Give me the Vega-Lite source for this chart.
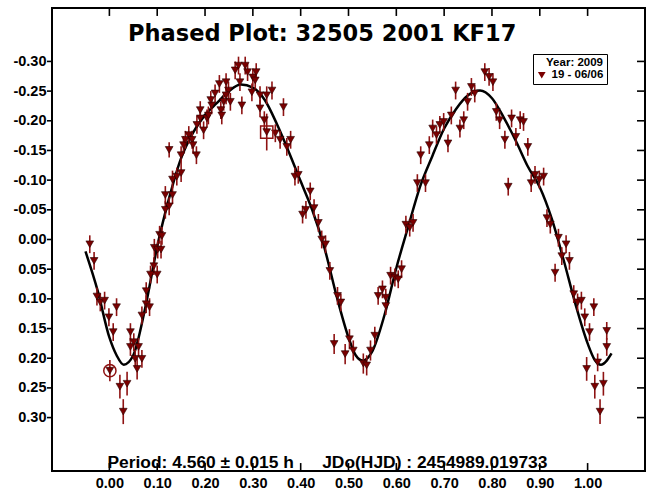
{
  "$schema": "https://vega.github.io/schema/vega-lite/v6.json",
  "width": 593,
  "height": 463,
  "autosize": {"type": "none"},
  "padding": {"left": 52, "top": 8, "right": 3, "bottom": 22},
  "background": "white",
  "config": {
    "view": {"stroke": "black", "strokeWidth": 2},
    "axis": {"grid": false, "domain": false, "ticks": false, "title": null, "labelColor": "black", "labelFont": "Liberation Sans", "labelFontWeight": "bold", "labelFontSize": 14.5, "labelOverlap": false, "labelFlush": false}
  },
  "datasets": {
    "curve": [
      {"x": -0.05, "y": 0.02}, {"x": -0.025, "y": 0.085}, {"x": 0.0, "y": 0.165}, {"x": 0.015, "y": 0.195},
      {"x": 0.03, "y": 0.211}, {"x": 0.05, "y": 0.195}, {"x": 0.075, "y": 0.115}, {"x": 0.1, "y": 0.012},
      {"x": 0.125, "y": -0.07}, {"x": 0.15, "y": -0.137}, {"x": 0.175, "y": -0.18}, {"x": 0.2, "y": -0.21},
      {"x": 0.225, "y": -0.23}, {"x": 0.25, "y": -0.25}, {"x": 0.275, "y": -0.261}, {"x": 0.3, "y": -0.256},
      {"x": 0.325, "y": -0.235}, {"x": 0.35, "y": -0.195}, {"x": 0.375, "y": -0.148}, {"x": 0.4, "y": -0.098},
      {"x": 0.425, "y": -0.048}, {"x": 0.45, "y": 0.015}, {"x": 0.475, "y": 0.095}, {"x": 0.5, "y": 0.165},
      {"x": 0.515, "y": 0.195}, {"x": 0.53, "y": 0.204}, {"x": 0.55, "y": 0.188}, {"x": 0.575, "y": 0.128},
      {"x": 0.6, "y": 0.048}, {"x": 0.625, "y": -0.022}, {"x": 0.65, "y": -0.09}, {"x": 0.675, "y": -0.14},
      {"x": 0.7, "y": -0.187}, {"x": 0.725, "y": -0.22}, {"x": 0.75, "y": -0.243}, {"x": 0.775, "y": -0.251},
      {"x": 0.8, "y": -0.238}, {"x": 0.825, "y": -0.205}, {"x": 0.85, "y": -0.166}, {"x": 0.875, "y": -0.123},
      {"x": 0.9, "y": -0.088}, {"x": 0.925, "y": -0.035}, {"x": 0.95, "y": 0.035}, {"x": 0.975, "y": 0.11},
      {"x": 1.0, "y": 0.175}, {"x": 1.015, "y": 0.203}, {"x": 1.028, "y": 0.211}, {"x": 1.04, "y": 0.204},
      {"x": 1.05, "y": 0.192}
    ],
    "pts": [
      {"x": -0.041, "y": 0.008, "e": 0.015}, {"x": -0.032, "y": 0.036, "e": 0.015}, {"x": -0.026, "y": 0.096, "e": 0.015},
      {"x": -0.019, "y": 0.106, "e": 0.015}, {"x": -0.010, "y": 0.103, "e": 0.015}, {"x": 0.015, "y": 0.114, "e": 0.015},
      {"x": -0.001, "y": 0.131, "e": 0.015}, {"x": 0.008, "y": 0.156, "e": 0.015}, {"x": 0.001, "y": 0.221, "e": 0.018},
      {"x": 0.022, "y": 0.248, "e": 0.02}, {"x": 0.037, "y": 0.243, "e": 0.02}, {"x": 0.029, "y": 0.29, "e": 0.021},
      {"x": 0.044, "y": 0.156, "e": 0.015}, {"x": 0.044, "y": 0.181, "e": 0.015}, {"x": 0.051, "y": 0.173, "e": 0.015},
      {"x": 0.054, "y": 0.201, "e": 0.015}, {"x": 0.058, "y": 0.218, "e": 0.018}, {"x": 0.061, "y": 0.181, "e": 0.015},
      {"x": 0.068, "y": 0.201, "e": 0.015}, {"x": 0.068, "y": 0.128, "e": 0.015}, {"x": 0.077, "y": 0.087, "e": 0.015},
      {"x": 0.077, "y": 0.109, "e": 0.015}, {"x": 0.084, "y": 0.114, "e": 0.015}, {"x": 0.086, "y": 0.059, "e": 0.015},
      {"x": 0.093, "y": 0.045, "e": 0.015}, {"x": 0.1, "y": 0.059, "e": 0.015}, {"x": 0.094, "y": 0.014, "e": 0.015},
      {"x": 0.101, "y": 0.017, "e": 0.015}, {"x": 0.105, "y": -0.008, "e": 0.015}, {"x": 0.108, "y": 0.017, "e": 0.015},
      {"x": 0.11, "y": -0.006, "e": 0.015}, {"x": 0.117, "y": -0.05, "e": 0.015}, {"x": 0.125, "y": -0.056, "e": 0.015},
      {"x": 0.117, "y": -0.075, "e": 0.015}, {"x": 0.132, "y": -0.075, "e": 0.015}, {"x": 0.132, "y": -0.101, "e": 0.015},
      {"x": 0.141, "y": -0.106, "e": 0.015}, {"x": 0.15, "y": -0.112, "e": 0.015}, {"x": 0.15, "y": -0.142, "e": 0.015},
      {"x": 0.125, "y": -0.151, "e": 0.013}, {"x": 0.155, "y": -0.159, "e": 0.015}, {"x": 0.159, "y": -0.168, "e": 0.015},
      {"x": 0.166, "y": -0.176, "e": 0.015}, {"x": 0.173, "y": -0.168, "e": 0.015}, {"x": 0.182, "y": -0.142, "e": 0.015},
      {"x": 0.175, "y": -0.159, "e": 0.015}, {"x": 0.183, "y": -0.193, "e": 0.015}, {"x": 0.19, "y": -0.204, "e": 0.015},
      {"x": 0.197, "y": -0.184, "e": 0.015}, {"x": 0.19, "y": -0.218, "e": 0.015}, {"x": 0.204, "y": -0.204, "e": 0.015},
      {"x": 0.207, "y": -0.209, "e": 0.015}, {"x": 0.214, "y": -0.226, "e": 0.015}, {"x": 0.212, "y": -0.235, "e": 0.015},
      {"x": 0.221, "y": -0.246, "e": 0.015}, {"x": 0.23, "y": -0.262, "e": 0.015}, {"x": 0.233, "y": -0.218, "e": 0.015},
      {"x": 0.235, "y": -0.209, "e": 0.015}, {"x": 0.239, "y": -0.232, "e": 0.015}, {"x": 0.244, "y": -0.265, "e": 0.015},
      {"x": 0.249, "y": -0.251, "e": 0.015}, {"x": 0.253, "y": -0.232, "e": 0.015}, {"x": 0.244, "y": -0.243, "e": 0.015},
      {"x": 0.263, "y": -0.285, "e": 0.015}, {"x": 0.27, "y": -0.293, "e": 0.015}, {"x": 0.273, "y": -0.265, "e": 0.015},
      {"x": 0.277, "y": -0.226, "e": 0.015}, {"x": 0.284, "y": -0.293, "e": 0.015}, {"x": 0.289, "y": -0.282, "e": 0.015},
      {"x": 0.298, "y": -0.248, "e": 0.015}, {"x": 0.3, "y": -0.273, "e": 0.015}, {"x": 0.307, "y": -0.282, "e": 0.015},
      {"x": 0.305, "y": -0.268, "e": 0.015}, {"x": 0.315, "y": -0.243, "e": 0.015}, {"x": 0.315, "y": -0.221, "e": 0.015},
      {"x": 0.324, "y": -0.201, "e": 0.015}, {"x": 0.329, "y": -0.243, "e": 0.015}, {"x": 0.329, "y": -0.181, "e": 0.031},
      {"x": 0.34, "y": -0.251, "e": 0.015}, {"x": 0.364, "y": -0.223, "e": 0.015}, {"x": 0.347, "y": -0.179, "e": 0.015},
      {"x": 0.357, "y": -0.168, "e": 0.015}, {"x": 0.371, "y": -0.156, "e": 0.015}, {"x": 0.379, "y": -0.168, "e": 0.015},
      {"x": 0.388, "y": -0.106, "e": 0.015}, {"x": 0.395, "y": -0.109, "e": 0.015}, {"x": 0.42, "y": -0.081, "e": 0.015},
      {"x": 0.404, "y": -0.042, "e": 0.015}, {"x": 0.411, "y": -0.05, "e": 0.015}, {"x": 0.428, "y": -0.053, "e": 0.015},
      {"x": 0.437, "y": -0.028, "e": 0.015}, {"x": 0.444, "y": 0.0, "e": 0.015}, {"x": 0.452, "y": 0.008, "e": 0.015},
      {"x": 0.461, "y": 0.053, "e": 0.015}, {"x": 0.477, "y": 0.095, "e": 0.015}, {"x": 0.484, "y": 0.106, "e": 0.015},
      {"x": 0.47, "y": 0.176, "e": 0.017}, {"x": 0.493, "y": 0.193, "e": 0.017}, {"x": 0.502, "y": 0.168, "e": 0.017},
      {"x": 0.51, "y": 0.187, "e": 0.017}, {"x": 0.531, "y": 0.209, "e": 0.017}, {"x": 0.538, "y": 0.212, "e": 0.017},
      {"x": 0.546, "y": 0.187, "e": 0.017}, {"x": 0.555, "y": 0.162, "e": 0.015}, {"x": 0.562, "y": 0.095, "e": 0.015},
      {"x": 0.571, "y": 0.084, "e": 0.015}, {"x": 0.578, "y": 0.098, "e": 0.015}, {"x": 0.578, "y": 0.112, "e": 0.015},
      {"x": 0.588, "y": 0.061, "e": 0.015}, {"x": 0.597, "y": 0.064, "e": 0.015}, {"x": 0.604, "y": 0.067, "e": 0.015},
      {"x": 0.611, "y": 0.05, "e": 0.015}, {"x": 0.62, "y": -0.025, "e": 0.015}, {"x": 0.628, "y": -0.02, "e": 0.015},
      {"x": 0.635, "y": -0.028, "e": 0.015}, {"x": 0.644, "y": -0.095, "e": 0.015}, {"x": 0.661, "y": -0.095, "e": 0.015},
      {"x": 0.651, "y": -0.142, "e": 0.015}, {"x": 0.669, "y": -0.159, "e": 0.015}, {"x": 0.676, "y": -0.187, "e": 0.015},
      {"x": 0.684, "y": -0.176, "e": 0.015}, {"x": 0.691, "y": -0.193, "e": 0.015}, {"x": 0.699, "y": -0.198, "e": 0.015},
      {"x": 0.708, "y": -0.162, "e": 0.015}, {"x": 0.715, "y": -0.209, "e": 0.015}, {"x": 0.724, "y": -0.251, "e": 0.015},
      {"x": 0.733, "y": -0.187, "e": 0.015}, {"x": 0.741, "y": -0.201, "e": 0.015}, {"x": 0.749, "y": -0.232, "e": 0.015},
      {"x": 0.757, "y": -0.257, "e": 0.015}, {"x": 0.764, "y": -0.246, "e": 0.015}, {"x": 0.785, "y": -0.282, "e": 0.015},
      {"x": 0.794, "y": -0.274, "e": 0.015}, {"x": 0.802, "y": -0.265, "e": 0.015}, {"x": 0.809, "y": -0.215, "e": 0.015},
      {"x": 0.816, "y": -0.201, "e": 0.015}, {"x": 0.827, "y": -0.168, "e": 0.015}, {"x": 0.834, "y": -0.089, "e": 0.015},
      {"x": 0.841, "y": -0.204, "e": 0.015}, {"x": 0.85, "y": -0.173, "e": 0.015}, {"x": 0.859, "y": -0.201, "e": 0.015},
      {"x": 0.866, "y": -0.198, "e": 0.015}, {"x": 0.875, "y": -0.156, "e": 0.015}, {"x": 0.882, "y": -0.095, "e": 0.015},
      {"x": 0.89, "y": -0.109, "e": 0.015}, {"x": 0.899, "y": -0.101, "e": 0.015}, {"x": 0.908, "y": -0.106, "e": 0.015},
      {"x": 0.915, "y": -0.036, "e": 0.015}, {"x": 0.922, "y": -0.025, "e": 0.015}, {"x": 0.932, "y": 0.056, "e": 0.015},
      {"x": 0.939, "y": -0.003, "e": 0.015}, {"x": 0.946, "y": 0.028, "e": 0.015}, {"x": 0.955, "y": 0.008, "e": 0.015},
      {"x": 0.962, "y": 0.036, "e": 0.015}, {"x": 0.971, "y": 0.092, "e": 0.015}, {"x": 0.979, "y": 0.106, "e": 0.015},
      {"x": 0.987, "y": 0.103, "e": 0.015}, {"x": 0.994, "y": 0.131, "e": 0.015}, {"x": 1.004, "y": 0.156, "e": 0.015},
      {"x": 1.013, "y": 0.114, "e": 0.015}, {"x": 0.998, "y": 0.218, "e": 0.02}, {"x": 1.015, "y": 0.248, "e": 0.02},
      {"x": 1.021, "y": 0.207, "e": 0.015}, {"x": 1.033, "y": 0.243, "e": 0.02}, {"x": 1.026, "y": 0.29, "e": 0.021},
      {"x": 1.04, "y": 0.154, "e": 0.015}, {"x": 1.04, "y": 0.181, "e": 0.015}
    ],
    "special": [
      {"x": 0.001, "y": 0.221, "s": "circle"},
      {"x": 0.329, "y": -0.181, "s": "square"}
    ],
    "labels": [
      {"t": "Phased Plot: 32505 2001 KF17"}
    ],
    "xticks": [
      {"v": 0}, {"v": 0.1}, {"v": 0.2}, {"v": 0.3}, {"v": 0.4}, {"v": 0.5}, {"v": 0.6}, {"v": 0.7}, {"v": 0.8}, {"v": 0.9}, {"v": 1.0}
    ],
    "yticks": [
      {"v": -0.3}, {"v": -0.25}, {"v": -0.2}, {"v": -0.15}, {"v": -0.1}, {"v": -0.05}, {"v": 0}, {"v": 0.05}, {"v": 0.1}, {"v": 0.15}, {"v": 0.2}, {"v": 0.25}, {"v": 0.3}
    ]
  },
  "resolve": {"axis": {"x": "independent", "y": "independent"}},
  "layer": [
    {
      "data": {"name": "curve"},
      "mark": {"type": "line", "color": "black", "strokeWidth": 2.5, "interpolate": "monotone"},
      "encoding": {
        "x": {"field": "x", "type": "quantitative",
          "scale": {"domain": [-0.12, 1.12], "nice": false, "zero": false},
          "axis": {"orient": "bottom", "title": null, "values": [0, 0.1, 0.2, 0.3, 0.4, 0.5, 0.6, 0.7, 0.8, 0.9, 1.0], "format": ".2f", "labelPadding": 5}},
        "y": {"field": "y", "type": "quantitative",
          "scale": {"domain": [-0.39, 0.39], "nice": false, "zero": false, "reverse": true},
          "axis": {"orient": "left", "title": null, "values": [-0.3, -0.25, -0.2, -0.15, -0.1, -0.05, 0, 0.05, 0.1, 0.15, 0.2, 0.25, 0.3], "format": ".2f", "labelPadding": 6, "labelExpr": "replace(datum.label, '\u2212', '-')"}}
      }
    },
    {
      "data": {"name": "xticks"},
      "mark": {"type": "rule", "color": "black", "strokeWidth": 1.6},
      "encoding": {
        "x": {"field": "v", "type": "quantitative", "axis": null},
        "y": {"datum": 0.39, "type": "quantitative", "axis": null},
        "y2": {"datum": 0.3766}
      }
    },
    {
      "data": {"name": "xticks"},
      "mark": {"type": "rule", "color": "black", "strokeWidth": 1.6},
      "encoding": {
        "x": {"field": "v", "type": "quantitative", "axis": null},
        "y": {"datum": -0.39, "type": "quantitative", "axis": null},
        "y2": {"datum": -0.3766}
      }
    },
    {
      "data": {"name": "yticks"},
      "mark": {"type": "rule", "color": "black", "strokeWidth": 1.6},
      "encoding": {
        "y": {"field": "v", "type": "quantitative", "axis": null},
        "x": {"datum": 1.12, "type": "quantitative", "axis": null},
        "x2": {"datum": 1.1033}
      }
    },
    {
      "data": {"name": "yticks"},
      "mark": {"type": "rule", "color": "black", "strokeWidth": 1.6},
      "encoding": {
        "y": {"field": "v", "type": "quantitative", "axis": null},
        "x": {"datum": -0.12, "type": "quantitative", "axis": null},
        "x2": {"datum": -0.1305}
      }
    },
    {
      "data": {"name": "pts"},
      "mark": {"type": "errorbar", "color": "#8e1212", "thickness": 1.6},
      "encoding": {
        "x": {"field": "x", "type": "quantitative", "axis": null},
        "y": {"field": "y", "type": "quantitative", "axis": null},
        "yError": {"field": "e"}
      }
    },
    {
      "data": {"name": "pts"},
      "mark": {"type": "point", "shape": "triangle-down", "filled": true, "size": 60, "opacity": 1, "stroke": "#2a0000", "strokeWidth": 0.6},
      "encoding": {
        "x": {"field": "x", "type": "quantitative", "axis": null},
        "y": {"field": "y", "type": "quantitative", "axis": null},
        "color": {"datum": "19 - 06/06", "type": "nominal",
          "scale": {"range": ["#7a0000"]},
          "legend": {"orient": "none", "legendX": 481, "legendY": 46, "title": "Year: 2009", "titleAnchor": "end",
            "titleFont": "Liberation Sans", "titleFontSize": 11.5, "titleFontWeight": "bold", "titleColor": "black", "titlePadding": 1,
            "labelFont": "Liberation Sans", "labelFontSize": 11.5, "labelFontWeight": "bold", "labelColor": "black",
            "symbolType": "triangle-down", "symbolSize": 60, "symbolStrokeWidth": 0, "symbolFillColor": "#7a0000",
            "strokeColor": "black", "fillColor": "white", "padding": 3, "cornerRadius": 0}}
      }
    },
    {
      "data": {"name": "special"},
      "mark": {"type": "point", "filled": false, "size": 150, "stroke": "#8e1212", "strokeWidth": 1.5, "opacity": 1},
      "encoding": {
        "x": {"field": "x", "type": "quantitative", "axis": null},
        "y": {"field": "y", "type": "quantitative", "axis": null},
        "shape": {"field": "s", "type": "nominal", "scale": {"domain": ["circle", "square"], "range": ["circle", "square"]}, "legend": null}
      }
    },
    {
      "data": {"name": "labels"},
      "mark": {"type": "text", "font": "DejaVu Sans", "fontWeight": "bold", "fontSize": 22.5, "align": "center", "baseline": "middle", "color": "black"},
      "encoding": {
        "text": {"field": "t"},
        "x": {"datum": 0.445, "type": "quantitative", "axis": null},
        "y": {"datum": -0.347, "type": "quantitative", "axis": null}
      }
    },
    {
      "data": {"name": "labels"},
      "mark": {"type": "text", "text": "Period: 4.560 \u00b1 0.015 h", "font": "Liberation Sans", "fontWeight": "bold", "fontSize": 17.4, "align": "left", "baseline": "middle", "color": "black"},
      "encoding": {
        "x": {"datum": -0.004, "type": "quantitative", "axis": null},
        "y": {"datum": 0.376, "type": "quantitative", "axis": null}
      }
    },
    {
      "data": {"name": "labels"},
      "mark": {"type": "text", "text": "JDo(HJD) : 2454989.019733", "font": "Liberation Sans", "fontWeight": "bold", "fontSize": 17.4, "align": "left", "baseline": "middle", "color": "black"},
      "encoding": {
        "x": {"datum": 0.445, "type": "quantitative", "axis": null},
        "y": {"datum": 0.376, "type": "quantitative", "axis": null}
      }
    }
  ]
}
